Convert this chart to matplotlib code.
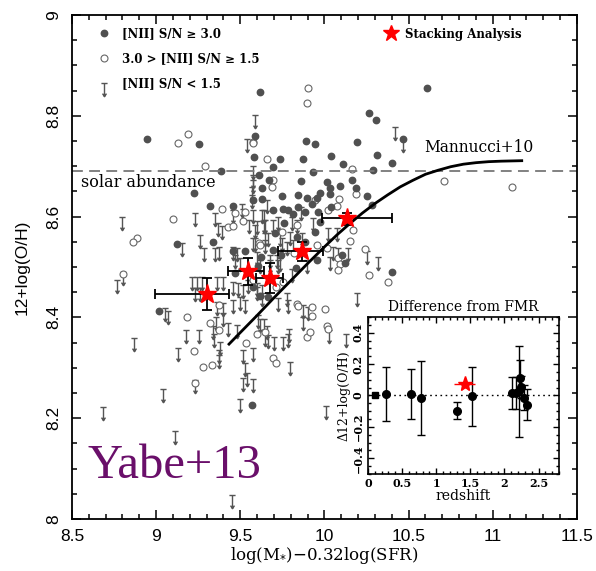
import numpy as np
import matplotlib
matplotlib.use('Agg')
import matplotlib.pyplot as plt
from matplotlib.path import Path
from matplotlib.lines import Line2D
from matplotlib.ticker import MultipleLocator, FuncFormatter

# ---- data ----
# [NII] S/N >= 3.0
det_x = [9.617, 10.607, 10.266, 10.304, 9.587, 9.888, 10.191, 10.468, 9.581, 9.736,
         9.870, 10.037, 10.314, 9.692, 10.112, 10.399, 9.934, 10.290, 9.613, 9.672,
         9.859, 10.017, 10.033, 10.162, 9.627, 10.092, 10.187, 9.749, 9.841, 9.973,
         10.033, 10.251, 9.631, 9.894, 9.755, 9.785, 9.924, 10.037, 10.280, 9.577,
         9.815, 9.884, 9.963, 9.761, 9.973, 9.706, 9.944, 9.835, 9.884, 10.102,
         10.122, 10.399, 8.944, 9.256, 9.944, 9.383, 9.227, 9.320, 9.458, 9.844,
         9.696, 9.122, 9.336, 9.458, 9.528, 9.696, 9.625, 9.743, 9.954, 9.607,
         9.617, 9.666, 9.019, 9.577, 9.831, 9.468, 9.568, 9.954]
det_y = [8.847, 8.855, 8.806, 8.792, 8.759, 8.750, 8.749, 8.753, 8.718, 8.714,
         8.714, 8.721, 8.722, 8.699, 8.704, 8.707, 8.689, 8.692, 8.683, 8.673,
         8.671, 8.669, 8.657, 8.673, 8.656, 8.661, 8.657, 8.641, 8.643, 8.646,
         8.645, 8.640, 8.634, 8.636, 8.616, 8.614, 8.626, 8.620, 8.623, 8.633,
         8.605, 8.610, 8.610, 8.588, 8.590, 8.568, 8.570, 8.560, 8.550, 8.524,
         8.507, 8.491, 8.754, 8.745, 8.744, 8.691, 8.647, 8.621, 8.621, 8.620,
         8.613, 8.545, 8.549, 8.532, 8.532, 8.534, 8.520, 8.524, 8.514, 8.501,
         8.443, 8.441, 8.413, 8.461, 8.499, 8.488, 8.226, 8.637]

# 3.0 > [NII] S/N >= 1.5
mid_x = [9.904, 9.898, 9.577, 9.657, 10.165, 10.712, 11.116, 9.696, 9.686, 10.187,
         9.944, 10.088, 10.073, 10.171, 10.152, 9.835, 9.746, 9.954, 10.013, 10.241,
         10.082, 10.092, 10.082, 10.266, 10.379, 10.003, 9.835, 9.821, 9.187, 9.131,
         9.573, 9.290, 9.393, 9.098, 9.468, 9.528, 9.429, 9.455, 9.514, 9.613,
         9.617, 8.884, 8.864, 10.023, 8.805, 9.577, 9.712, 9.755, 9.844, 9.924,
         9.375, 9.181, 9.320, 9.375, 9.534, 9.225, 9.276, 9.330, 9.231, 9.696,
         9.712, 9.928, 9.898, 9.914, 10.013, 10.023, 9.597, 9.647]
mid_y = [8.855, 8.826, 8.749, 8.714, 8.694, 8.671, 8.658, 8.673, 8.659, 8.645,
         8.632, 8.634, 8.621, 8.573, 8.552, 8.583, 8.570, 8.544, 8.538, 8.535,
         8.518, 8.506, 8.495, 8.484, 8.471, 8.416, 8.427, 8.527, 8.764, 8.747,
         8.747, 8.701, 8.615, 8.595, 8.608, 8.609, 8.579, 8.581, 8.592, 8.547,
         8.544, 8.557, 8.549, 8.613, 8.487, 8.474, 8.461, 8.471, 8.423, 8.421,
         8.425, 8.400, 8.389, 8.375, 8.350, 8.334, 8.302, 8.306, 8.270, 8.319,
         8.310, 8.402, 8.362, 8.372, 8.382, 8.376, 8.368, 8.372]

# [NII] S/N < 1.5 (upper limits)
lim_x = [9.587, 10.419, 10.465, 9.577, 9.859, 9.805, 9.835, 9.934, 9.647, 9.587,
         10.023, 10.076, 9.647, 9.746, 9.775, 9.815, 10.049, 10.082, 10.138, 10.033,
         10.320, 10.254, 9.574, 9.597, 9.617, 9.676, 9.726, 9.805, 9.894, 10.191,
         9.726, 9.785, 9.874, 9.541, 9.577, 9.577, 9.571, 9.568, 9.508, 9.458,
         9.518, 9.657, 8.795, 9.231, 9.350, 9.369, 9.393, 9.552, 9.577, 9.627,
         9.641, 9.597, 9.641, 9.692, 9.726, 9.152, 9.260, 9.284, 9.350, 9.375,
         9.458, 9.478, 9.587, 9.647, 9.666, 9.736, 9.795, 9.865, 9.468, 9.498,
         9.676, 9.716, 9.736, 8.766, 8.801, 9.211, 9.241, 9.270, 9.360, 9.399,
         9.231, 9.260, 9.458, 9.488, 9.518, 9.547, 9.597, 9.627, 9.498, 9.528,
         9.458, 9.360, 9.399, 9.775, 9.904, 9.053, 9.072, 8.870, 9.177, 9.256,
         9.131, 9.355, 9.339, 9.344, 9.379, 9.375, 9.373, 9.429, 9.482, 9.399,
         9.518, 9.574, 9.528, 9.538, 9.514, 9.577, 9.498, 9.231, 9.039, 8.686,
         9.112, 9.452, 9.641, 9.657, 9.666, 9.647, 9.702, 9.752, 9.789, 9.785,
         9.795, 9.874, 10.029, 10.128, 10.007, 9.607, 9.617, 9.597, 9.627]
lim_y = [8.802, 8.778, 8.753, 8.683, 8.620, 8.600, 8.593, 8.597, 8.593, 8.583,
         8.577, 8.577, 8.554, 8.557, 8.550, 8.554, 8.540, 8.537, 8.537, 8.520,
         8.519, 8.532, 8.557, 8.530, 8.514, 8.514, 8.514, 8.497, 8.514, 8.448,
         8.438, 8.435, 8.425, 8.753, 8.701, 8.673, 8.659, 8.643, 8.626, 8.613,
         8.616, 8.632, 8.600, 8.608, 8.607, 8.588, 8.581, 8.593, 8.613, 8.613,
         8.614, 8.592, 8.593, 8.593, 8.599, 8.547, 8.563, 8.537, 8.537, 8.540,
         8.540, 8.537, 8.558, 8.567, 8.567, 8.568, 8.570, 8.567, 8.524, 8.517,
         8.524, 8.524, 8.517, 8.474, 8.491, 8.481, 8.481, 8.481, 8.481, 8.481,
         8.458, 8.458, 8.471, 8.468, 8.464, 8.474, 8.468, 8.464, 8.441, 8.435,
         8.435, 8.431, 8.428, 8.448, 8.421, 8.418, 8.413, 8.359, 8.374, 8.375,
         8.339, 8.401, 8.382, 8.368, 8.352, 8.335, 8.325, 8.388, 8.385, 8.408,
         8.335, 8.339, 8.309, 8.289, 8.279, 8.277, 8.239, 8.276, 8.257, 8.223,
         8.175, 8.048, 8.396, 8.382, 8.365, 8.369, 8.362, 8.362, 8.376, 8.368,
         8.312, 8.401, 8.375, 8.368, 8.224, 8.405, 8.396, 8.461, 8.448]

# stacking analysis
stack_x = [9.300, 9.544, 9.676, 9.864, 10.132]
stack_y = [8.446, 8.493, 8.479, 8.532, 8.597]
stack_xlo = [8.993, 9.429, 9.593, 9.726, 9.983]
stack_xhi = [9.433, 9.641, 9.752, 9.993, 10.399]
stack_ylo = [8.415, 8.464, 8.449, 8.511, 8.583]
stack_yhi = [8.478, 8.518, 8.507, 8.550, 8.608]

# Mannucci+10 curve
mann_x = [9.427, 9.50, 9.60, 9.70, 9.80, 9.90, 10.00, 10.075, 10.15, 10.225, 10.30,
          10.375, 10.45, 10.525, 10.60, 10.675, 10.75, 10.825, 10.90, 10.975, 11.05, 11.18]
mann_y = [8.345, 8.370, 8.404, 8.439, 8.473, 8.507, 8.540, 8.564, 8.586, 8.607, 8.626,
          8.643, 8.659, 8.672, 8.684, 8.692, 8.699, 8.704, 8.707, 8.709, 8.710, 8.711]
solar = 8.69

# inset: difference from FMR
z_pts = [0.26, 0.635, 0.78, 1.30, 1.52, 2.11, 2.17, 2.21, 2.23, 2.25, 2.29, 2.33]
d_pts = [0.009, 0.009, -0.015, -0.096, -0.006, 0.017, 0.017, 0.026, 0.113, 0.056, -0.015, -0.059]
e_pts = [0.17, 0.16, 0.235, 0.055, 0.19, 0.10, 0.10, 0.29, 0.11, 0.07, 0.08, 0.10]
z_sq, d_sq = [0.107], [0.0]
z_star, d_star, zerr_star, derr_star = [1.416], [0.074], [0.16], [0.027]

# ---- figure ----
serif = 'DejaVu Serif'
sans = 'Liberation Sans'

fig = plt.figure(figsize=(5.96, 5.71), dpi=100)
ax = fig.add_axes([0.1208, 0.0911, 0.8473, 0.8826])

# upper-limit marker: cap + stem + arrow head
lim_path = Path([(-0.7, 0), (0.7, 0), (0, 0), (0, -3), (-0.45, -2.3), (0, -3), (0.45, -2.3)],
                [Path.MOVETO, Path.LINETO, Path.MOVETO, Path.LINETO,
                 Path.MOVETO, Path.LINETO, Path.LINETO])

gray = '#555555'
ax.plot(lim_x, lim_y, ls='none', marker=lim_path, ms=19, mfc='none', mec=gray, mew=1.0)
ax.plot(mid_x, mid_y, ls='none', marker='o', ms=5, mfc='white', mec='#666666', mew=0.8)
ax.plot(det_x, det_y, ls='none', marker='o', ms=4.6, mfc='#505050', mec='#505050')

ax.axhline(solar, color='#777777', lw=1.3, ls=(0, (6, 3.5)))
ax.plot(mann_x, mann_y, color='black', lw=2.0, solid_capstyle='butt')

sx = np.array(stack_x); sy = np.array(stack_y)
xerr = [sx - np.array(stack_xlo), np.array(stack_xhi) - sx]
yerr = [sy - np.array(stack_ylo), np.array(stack_yhi) - sy]
ax.errorbar(sx, sy, xerr=xerr, yerr=yerr, fmt='none', ecolor='black', elinewidth=1.3,
            capsize=3.5, capthick=1.3, zorder=4)
ax.plot(sx, sy, ls='none', marker='*', ms=14, mfc='red', mec='red', zorder=5)

ax.text(8.555, 8.667, 'solar abundance', family=serif, fontsize=11.5, va='center')
ax.text(10.59, 8.737, 'Mannucci+10', family=serif, fontsize=11.2, va='center')
ax.text(8.59, 8.082, 'Yabe+13', family='Liberation Serif', fontsize=35, color='#6a0f6a')

ax.set_xlim(8.5, 11.5)
ax.set_ylim(8.0, 9.0)
ax.xaxis.set_major_locator(MultipleLocator(0.5))
ax.xaxis.set_minor_locator(MultipleLocator(0.1))
ax.yaxis.set_major_locator(MultipleLocator(0.2))
ax.yaxis.set_minor_locator(MultipleLocator(0.05))
fmt_g = FuncFormatter(lambda v, p: '%g' % round(v, 2))
ax.xaxis.set_major_formatter(fmt_g)
ax.yaxis.set_major_formatter(fmt_g)
ax.tick_params(which='both', direction='in', top=True, right=True, width=1.1)
ax.tick_params(which='major', length=6.5)
ax.tick_params(which='minor', length=3.5)
ax.tick_params(axis='x', pad=7, labelsize=12.5)
ax.tick_params(axis='y', pad=8, labelsize=12.5, labelrotation=90)
for lab in ax.get_xticklabels() + ax.get_yticklabels():
    lab.set_family(sans)
for lab in ax.get_yticklabels():
    lab.set_va('center')
for s in ax.spines.values():
    s.set_linewidth(1.3)
ax.set_xlabel(r'log(M$_{*}$)$-$0.32log(SFR)', family=serif, fontsize=12, labelpad=1)
ax.set_ylabel('12+log(O/H)', family=sans, fontsize=12.5, labelpad=12)

# legends
h1 = Line2D([], [], ls='none', marker='o', ms=4.6, mfc='#505050', mec='#505050')
h2 = Line2D([], [], ls='none', marker='o', ms=5, mfc='white', mec='#666666', mew=0.8)
h3 = Line2D([], [], ls='none', marker=lim_path, ms=19, mfc='none', mec=gray, mew=1.0)
leg1 = ax.legend([h1, h2, h3],
                 ['[NII] S/N \u2265 3.0', '3.0 > [NII] S/N \u2265 1.5', '[NII] S/N < 1.5'],
                 loc='upper left', bbox_to_anchor=(0.05, 0.975), frameon=False,
                 prop={'family': serif, 'weight': 'bold', 'size': 8.5},
                 handlelength=1.2, handletextpad=0.9, labelspacing=1.0,
                 borderpad=0, borderaxespad=0)
ax.add_artist(leg1)
h4 = Line2D([], [], ls='none', marker='*', ms=12, mfc='red', mec='red')
ax.legend([h4], ['Stacking Analysis'], loc='upper left', bbox_to_anchor=(0.617, 0.975),
          frameon=False, prop={'family': serif, 'weight': 'bold', 'size': 8.5},
          handlelength=1.2, handletextpad=0.6, borderpad=0, borderaxespad=0)

# inset
ins = fig.add_axes([0.6174, 0.1699, 0.3205, 0.2750])
ins.axhline(0, color='black', lw=1.0, ls=(0, (1.2, 2.5)))
ins.errorbar(z_pts, d_pts, yerr=e_pts, fmt='o', color='black', ms=5.5, elinewidth=1.0,
             capsize=3, capthick=1.0)
ins.plot(z_sq, d_sq, ls='none', marker='s', ms=5, color='black')
ins.errorbar(z_star, d_star, xerr=zerr_star, yerr=derr_star, fmt='*', color='red',
             ms=11, elinewidth=1.0, capsize=0)
ins.set_xlim(0, 2.8)
ins.set_ylim(-0.5, 0.5)
ins.xaxis.set_minor_locator(MultipleLocator(0.1))
ins.yaxis.set_minor_locator(MultipleLocator(0.05))
ins.set_xticks([0, 0.5, 1, 1.5, 2, 2.5])
ins.set_xticklabels(['0', '0.5', '1', '1.5', '2', '2.5'])
ins.set_yticks([-0.4, -0.2, 0, 0.2, 0.4])
ins.set_yticklabels(['\u22120.4', '\u22120.2', '0', '0.2', '0.4'])
ins.tick_params(which='both', direction='in', top=True, right=True, width=1.0)
ins.tick_params(which='major', length=4.5)
ins.tick_params(which='minor', length=2.5)
ins.tick_params(axis='x', pad=3, labelsize=8)
ins.tick_params(axis='y', pad=3, labelsize=8, labelrotation=90)
for lab in ins.get_xticklabels() + ins.get_yticklabels():
    lab.set_family(serif)
    lab.set_weight('bold')
for lab in ins.get_yticklabels():
    lab.set_va('center')
for s in ins.spines.values():
    s.set_linewidth(1.2)
ins.set_xlabel('redshift', family=serif, fontsize=10, labelpad=0)
ins.set_ylabel('\u039412+log(O/H)', family=serif, fontsize=9, labelpad=2)
ins.set_title('Difference from FMR', family=serif, fontsize=10, pad=4)

fig.savefig('out.png', dpi=100)
